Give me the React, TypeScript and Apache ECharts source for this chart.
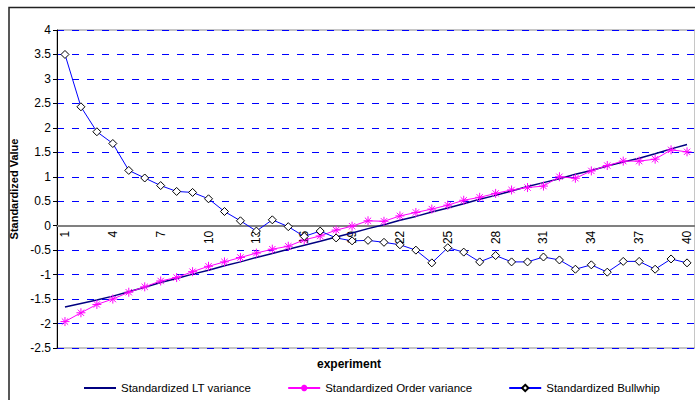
import React, { useEffect, useRef } from "react";
import * as echarts from "echarts";

const categories = [
  "1", "2", "3", "4", "5", "6", "7", "8", "9", "10",
  "11", "12", "13", "14", "15", "16", "17", "18", "19", "20",
  "21", "22", "23", "24", "25", "26", "27", "28", "29", "30",
  "31", "32", "33", "34", "35", "36", "37", "38", "39", "40",
];

const ltVariance = [
  -1.66, -1.59, -1.52, -1.44, -1.35, -1.26, -1.16, -1.08, -0.99, -0.91,
  -0.82, -0.74, -0.65, -0.57, -0.48, -0.4, -0.32, -0.23, -0.15, -0.06,
  0.02, 0.11, 0.19, 0.28, 0.36, 0.45, 0.54, 0.62, 0.71, 0.8,
  0.88, 0.96, 1.05, 1.13, 1.22, 1.3, 1.38, 1.47, 1.57, 1.66,
];

const orderVariance = [
  -1.96, -1.78, -1.61, -1.5, -1.36, -1.25, -1.13, -1.06, -0.94, -0.83,
  -0.74, -0.65, -0.56, -0.48, -0.42, -0.29, -0.21, -0.09, -0.01, 0.1,
  0.09, 0.2, 0.27, 0.34, 0.42, 0.52, 0.58, 0.66, 0.73, 0.78,
  0.81, 1.0, 0.97, 1.12, 1.23, 1.32, 1.32, 1.36, 1.55, 1.51,
];

const bullwhip = [
  3.5, 2.43, 1.92, 1.68, 1.13, 0.975, 0.82, 0.7, 0.68, 0.55,
  0.29, 0.1, -0.11, 0.12, -0.02, -0.22, -0.11, -0.25, -0.31, -0.3,
  -0.34, -0.39, -0.5, -0.76, -0.45, -0.54, -0.74, -0.61, -0.74, -0.74,
  -0.64, -0.7, -0.89, -0.8, -0.95, -0.73, -0.73, -0.89, -0.68, -0.76,
];

const seriesNames = [
  "Standardized LT variance",
  "Standardized Order variance",
  "Standardized Bullwhip",
];

const FONT = "'Liberation Sans', Arial, sans-serif";
const STAR = "path://M5 0L5 10M0 5L10 5M1.5 1.5L8.5 8.5M8.5 1.5L1.5 8.5";

const Y_MIN = -2.5;
const Y_MAX = 4;
const GRID_TOP = 30;
const GRID_H = 318;

export default function App() {
  const ref = useRef<HTMLDivElement>(null);

  useEffect(() => {
    if (!ref.current) return;
    const chart = echarts.init(ref.current, undefined, { renderer: "svg" });
    const zeroOffset = -(GRID_H * (0 - Y_MIN)) / (Y_MAX - Y_MIN);
    chart.setOption({
      animation: false,
      backgroundColor: "#ffffff",
      textStyle: { fontFamily: FONT },
      grid: {
        left: 57,
        top: GRID_TOP,
        width: 640,
        height: GRID_H,
        show: true,
        borderColor: "#8c8c8c",
        borderWidth: 1,
        containLabel: false,
      },
      graphic: [
        {
          type: "rect",
          shape: { x: 9, y: 7.5, width: 800, height: 500 },
          style: { fill: "none", stroke: "#222", lineWidth: 1.5 },
          silent: true,
          z: 100,
        },
        {
          type: "text",
          x: 349,
          y: 364,
          style: {
            text: "experiment",
            font: `bold 12px ${FONT}`,
            fill: "#000",
            textAlign: "center",
            textVerticalAlign: "middle",
          },
        },
      ],
      legend: {
        left: 78,
        top: 377,
        itemWidth: 32,
        itemHeight: 8,
        itemGap: 36,
        textStyle: { fontSize: 11.5, color: "#000", fontFamily: FONT },
        data: [
          { name: seriesNames[0], itemStyle: { opacity: 0 } },
          { name: seriesNames[1] },
          { name: seriesNames[2] },
        ],
      },
      xAxis: {
        type: "category",
        data: categories,
        boundaryGap: true,
        position: "bottom",
        offset: zeroOffset,
        axisLine: { onZero: false, lineStyle: { color: "#808080", width: 2 } },
        axisTick: { show: false },
        axisLabel: {
          interval: 2,
          rotate: 90,
          fontSize: 12,
          margin: 5,
          color: "#000",
          fontFamily: FONT,
        },
        splitLine: { show: false },
      },
      yAxis: {
        type: "value",
        min: Y_MIN,
        max: Y_MAX,
        interval: 0.5,
        name: "Standardized Value",
        nameLocation: "middle",
        nameGap: 34,
        nameTextStyle: { fontWeight: "bold", fontSize: 11, color: "#000", fontFamily: FONT },
        axisLine: { show: true, lineStyle: { color: "#000", width: 1 } },
        axisTick: { show: true, length: 4, lineStyle: { color: "#000" } },
        axisLabel: { fontSize: 12, color: "#000", margin: 6, fontFamily: FONT },
        splitLine: {
          show: true,
          lineStyle: { color: "#0000ff", type: [7, 8], width: 1 },
        },
      },
      series: [
        {
          name: seriesNames[0],
          type: "line",
          data: ltVariance,
          showSymbol: false,
          symbol: "none",
          lineStyle: { color: "#000080", width: 1.5 },
          itemStyle: { color: "#000080" },
          z: 2,
        },
        {
          name: seriesNames[1],
          type: "line",
          data: orderVariance,
          symbol: STAR,
          symbolSize: 9,
          lineStyle: { color: "#ff00ff", width: 1 },
          itemStyle: { color: "#ff00ff", borderColor: "#ff00ff", borderWidth: 1 },
          z: 3,
        },
        {
          name: seriesNames[2],
          type: "line",
          data: bullwhip,
          symbol: "diamond",
          symbolSize: 8,
          lineStyle: { color: "#0000ff", width: 1 },
          itemStyle: { color: "#ffffff", borderColor: "#000000", borderWidth: 1 },
          z: 4,
        },
      ],
    });
    return () => chart.dispose();
  }, []);

  return (
    <div
      ref={ref}
      style={{ position: "fixed", left: 0, top: 0, width: 695, height: 400 }}
    />
  );
}
